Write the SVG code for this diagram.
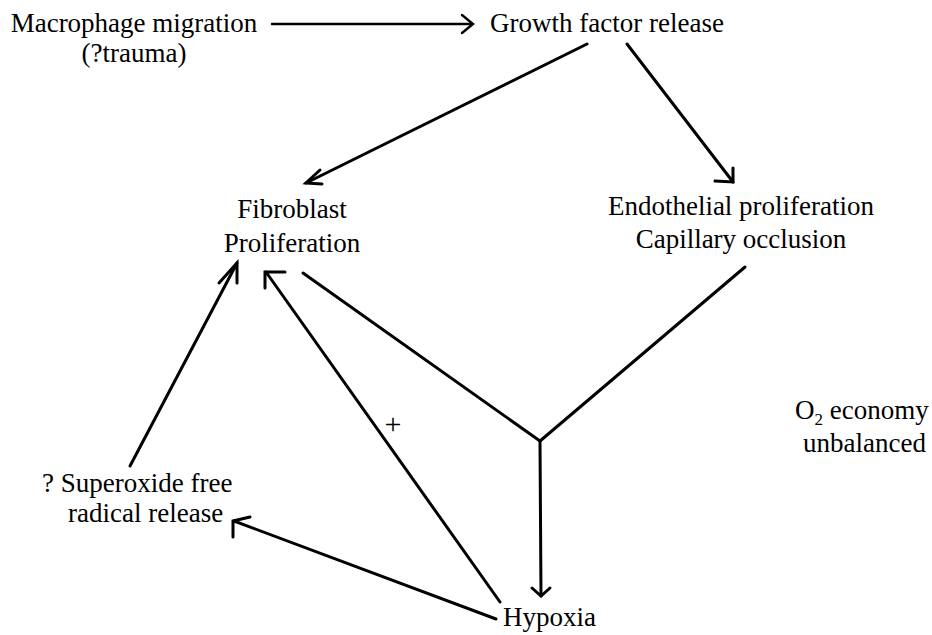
<svg xmlns="http://www.w3.org/2000/svg" width="932" height="635" viewBox="0 0 932 635">
<style>
  text { font-family: "Liberation Serif", "Times New Roman", serif; font-size: 27px; fill: #000; }
  .mid { text-anchor: middle; }
  .plus { font-size: 30px; }
  .ln { fill: none; stroke: #000; stroke-width: 3; stroke-linecap: round; stroke-linejoin: miter; }
  .thin { stroke-width: 2.4; }
</style>
<rect width="932" height="635" fill="#fff"/>
<g id="connectors">
  <!-- Macrophage -> Growth factor -->
  <path class="ln thin" d="M272,24 L472,24"/>
  <path class="ln thin" d="M462,15 L473,24 L462,33"/>
  <!-- Growth factor -> Fibroblast -->
  <path class="ln" d="M587,44 L306,183"/>
  <path class="ln" d="M320,170 L306,183 L322,184"/>
  <!-- Growth factor -> Endothelial -->
  <path class="ln" d="M627,44 L733,182"/>
  <path class="ln" d="M715,181 L733,182 L733,168"/>
  <!-- Fibroblast and Capillary -> junction -> Hypoxia -->
  <path class="ln" d="M303,273 L540,441"/>
  <path class="ln" d="M745,267 L540,441"/>
  <path class="ln" d="M540,441 L541,596"/>
  <path class="ln" d="M532,588 L541,596 L550,588"/>
  <!-- Hypoxia -> Proliferation (+) -->
  <path class="ln" d="M500,602 L266,272"/>
  <path class="ln" d="M285,272 L265,272 L265,288"/>
  <!-- Superoxide -> Proliferation -->
  <path class="ln" d="M130,466 L237,263"/>
  <path class="ln" d="M219,283 L237,263 L237,283"/>
  <!-- Hypoxia -> Superoxide -->
  <path class="ln" d="M496,619 L234,521"/>
  <path class="ln" d="M250,517 L233,521 L233,537"/>
</g>
<g id="node-macrophage">
  <text class="mid" x="134" y="32">Macrophage migration</text>
  <text class="mid" x="134" y="62">(?trauma)</text>
</g>
<g id="node-growth">
  <text x="490" y="32">Growth factor release</text>
</g>
<g id="node-fibroblast">
  <text class="mid" x="292" y="218">Fibroblast</text>
  <text class="mid" x="292" y="252">Proliferation</text>
</g>
<g id="node-endothelial">
  <text class="mid" x="741" y="215">Endothelial proliferation</text>
  <text class="mid" x="741" y="248">Capillary occlusion</text>
</g>
<g id="node-o2">
  <text x="795" y="419">O<tspan font-size="17" dy="6">2</tspan><tspan dy="-6"> economy</tspan></text>
  <text x="803" y="452">unbalanced</text>
</g>
<g id="node-superoxide">
  <text x="42" y="492">? Superoxide free</text>
  <text x="68" y="522">radical release</text>
</g>
<g id="node-hypoxia">
  <text x="503" y="626">Hypoxia</text>
</g>
<g id="label-plus">
  <text x="393" y="434" class="mid plus">+</text>
</g>
</svg>
